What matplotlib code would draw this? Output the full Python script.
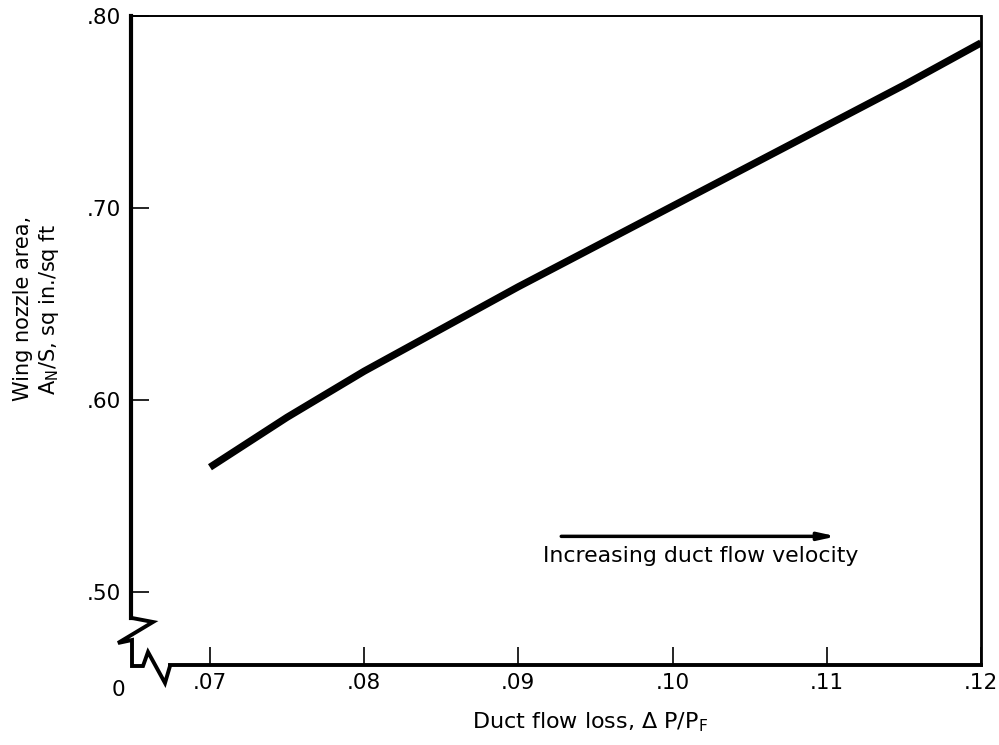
import matplotlib
matplotlib.use("Agg")
import matplotlib.pyplot as plt

plt.rcParams["font.family"] = ["DejaVu Sans"]
plt.rcParams["mathtext.fontset"] = "dejavusans"

# curve
duct_loss = [0.070, 0.075, 0.080, 0.085, 0.090, 0.095, 0.100, 0.105, 0.110, 0.115, 0.120]
nozzle_area = [0.565, 0.591, 0.615, 0.637, 0.659, 0.680, 0.701, 0.722, 0.743, 0.764, 0.786]

x_ticks = [0.07, 0.08, 0.09, 0.10, 0.11, 0.12]
x_tick_labels = [".07", ".08", ".09", ".10", ".11", ".12"]
y_ticks = [0.50, 0.60, 0.70, 0.80]
y_tick_labels = [".50", ".60", ".70", ".80"]

W, H = 999, 745
fig = plt.figure(figsize=(W / 100, H / 100), dpi=100)
ax_l, ax_r, ax_t, ax_b = 131, 981, 16, 665
ax = fig.add_axes([ax_l / W, 1 - ax_b / H, (ax_r - ax_l) / W, (ax_b - ax_t) / H])

ax.plot(duct_loss, nozzle_area, color="black", lw=5.2, solid_capstyle="butt")

ax.set_xlim(0.06488, 0.12)
ax.set_ylim(0.4620, 0.80)
ax.set_xticks(x_ticks)
ax.set_xticklabels(x_tick_labels)
ax.set_yticks(y_ticks)
ax.set_yticklabels(y_tick_labels)
ax.tick_params(direction="in", length=13, width=1.2, labelsize=15.5, pad=7)
ax.tick_params(axis="x", pad=6)

ax.spines["left"].set_linewidth(3.0)
ax.spines["bottom"].set_linewidth(2.8)
ax.spines["top"].set_linewidth(1.4)
ax.spines["right"].set_linewidth(2.0)
ax.spines["left"].set_bounds(0.4865, 0.80)
ax.spines["bottom"].set_bounds(0.0674, 0.12)


# axis break zigzags, given in pixels relative to the figure
def px(points):
    xs = [(p[0] - ax_l) / (ax_r - ax_l) for p in points]
    ys = [(ax_b - p[1]) / (ax_b - ax_t) for p in points]
    return xs, ys


y_break = [(132, 618), (153, 622), (118, 643), (132, 640), (132, 666), (143, 666),
           (148, 652), (165, 683), (170, 666)]
bx, by = px(y_break)
ax.plot(bx, by, color="black", lw=2.8, transform=ax.transAxes, clip_on=False,
        solid_joinstyle="miter")

zx, zy = px([(118, 690)])
ax.text(zx[0], zy[0], "0", transform=ax.transAxes, ha="center", va="center", fontsize=15.5)

# arrow and note
ax.annotate("", xy=(0.1108, 0.529), xytext=(0.0926, 0.529),
            arrowprops=dict(arrowstyle="-|>,head_length=1.0,head_width=0.22",
                            color="black", lw=2.5))
ax.text(0.1018, 0.519, "Increasing duct flow velocity", ha="center", va="center",
        fontsize=15.8)

fig.text(590 / W, 1 - 722 / H, r"Duct flow loss, $\Delta$ P/P$_\mathregular{F}$",
         ha="center", va="center", fontsize=16)
fig.text(23 / W, 1 - 308 / H, "Wing nozzle area,", rotation=90,
         ha="center", va="center", fontsize=15)
fig.text(49 / W, 1 - 310 / H, r"A$_\mathregular{N}$/S, sq in./sq ft", rotation=90,
         ha="center", va="center", fontsize=15)

fig.savefig("out.png", dpi=100)
